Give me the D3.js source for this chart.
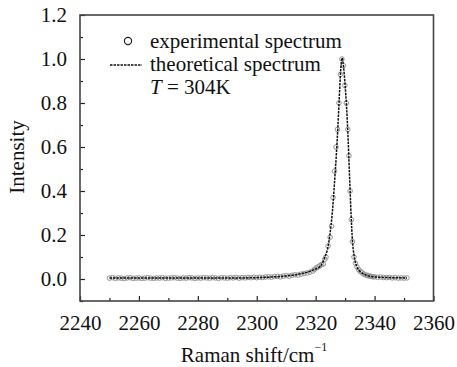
<!DOCTYPE html>
<html>
<head>
<meta charset="utf-8">
<script src="https://cdnjs.cloudflare.com/ajax/libs/d3/7.8.5/d3.min.js"></script>
<style>
  body { margin: 0; background: #fff; }
</style>
</head>
<body>
<svg id="chart" width="457" height="367"></svg>
<script>
// experimental spectrum
var expShift = [
  2250, 2251, 2252, 2253, 2254, 2255, 2256, 2257, 2258, 2259,
  2260, 2261, 2262, 2263, 2264, 2265, 2266, 2267, 2268, 2269,
  2270, 2271, 2272, 2273, 2274, 2275, 2276, 2277, 2278, 2279,
  2280, 2281, 2282, 2283, 2284, 2285, 2286, 2287, 2288, 2289,
  2290, 2291, 2292, 2293, 2294, 2295, 2296, 2297, 2298, 2299,
  2300, 2301, 2302, 2303, 2304, 2305, 2306, 2307, 2308, 2309,
  2310, 2311, 2312, 2313, 2314, 2315, 2316, 2317, 2318, 2319,
  2319.6, 2320.2, 2320.8, 2321.4, 2322.0, 2322.6, 2323.1, 2323.5, 2324.2, 2324.9,
  2325.4, 2325.9, 2326.4, 2326.9, 2327.4, 2327.9, 2328.4, 2328.9, 2329.4, 2329.9,
  2330.4, 2330.9, 2331.3, 2331.7, 2332.1, 2332.5, 2333.0, 2333.5, 2334.0, 2334.6,
  2335.2, 2335.8, 2336.4, 2337.0, 2337.6, 2338.2, 2338.8, 2339.4,
  2340, 2341, 2342, 2343, 2344, 2345, 2346, 2347, 2348, 2349, 2350, 2351
];
var expIntensity = [
  0.004, 0.006, 0.003, 0.005, 0.004, 0.002, 0.005, 0.006, 0.003, 0.004,
  0.005, 0.003, 0.004, 0.006, 0.004, 0.003, 0.005, 0.004, 0.006, 0.003,
  0.004, 0.005, 0.006, 0.004, 0.003, 0.005, 0.004, 0.006, 0.005, 0.003,
  0.005, 0.004, 0.006, 0.005, 0.004, 0.006, 0.005, 0.003, 0.006, 0.005,
  0.004, 0.006, 0.005, 0.007, 0.004, 0.006, 0.005, 0.007, 0.006, 0.008,
  0.006, 0.008, 0.007, 0.009, 0.010, 0.008, 0.011, 0.012, 0.010, 0.013,
  0.015, 0.013, 0.017, 0.019, 0.018, 0.022, 0.025, 0.027, 0.031, 0.036,
  0.044, 0.050, 0.055, 0.060, 0.066, 0.068, 0.090, 0.100, 0.150, 0.190,
  0.240, 0.370, 0.490, 0.600, 0.680, 0.800, 0.930, 1.000, 0.970, 0.880,
  0.800, 0.680, 0.560, 0.400, 0.270, 0.170, 0.100, 0.072, 0.055, 0.042,
  0.034, 0.028, 0.022, 0.018, 0.016, 0.013, 0.012, 0.010,
  0.010, 0.008, 0.009, 0.007, 0.006, 0.007, 0.005, 0.006, 0.004, 0.005, 0.004, 0.005
];

// theoretical spectrum (fitted curve)
var theoShift = [
  2250, 2260, 2270, 2280, 2290, 2295, 2300, 2305, 2310, 2313, 2315, 2317, 2319, 2320,
  2321, 2322, 2323, 2324, 2324.5, 2325, 2325.5, 2326, 2326.5, 2327, 2327.5, 2328, 2328.5,
  2329, 2329.5, 2330, 2330.5, 2331, 2331.5, 2332, 2332.5, 2333, 2333.5, 2334,
  2335, 2336, 2337, 2338, 2340, 2343, 2346, 2351
];
var theoIntensity = [
  0.004, 0.004, 0.004, 0.005, 0.005, 0.005, 0.006, 0.009, 0.014, 0.019, 0.024, 0.030, 0.040, 0.046,
  0.052, 0.065, 0.095, 0.135, 0.170, 0.220, 0.280, 0.360, 0.460, 0.560, 0.680, 0.820, 0.950,
  1.005, 0.960, 0.880, 0.780, 0.640, 0.470, 0.300, 0.170, 0.110, 0.075, 0.055,
  0.035, 0.025, 0.018, 0.014, 0.010, 0.007, 0.006, 0.005
];

var xTicks = [2240, 2260, 2280, 2300, 2320, 2340, 2360];
var xMinorTicks = [2250, 2270, 2290, 2310, 2330, 2350];
var yTicks = [0.0, 0.2, 0.4, 0.6, 0.8, 1.0, 1.2];
var yMinorTicks = [-0.1, 0.1, 0.3, 0.5, 0.7, 0.9, 1.1];
var legendLabels = ['experimental spectrum', 'theoretical spectrum'];

(function() {
  var svg = d3.select('#chart');
  var left = 80, right = 433.5, top = 15, bottom = 301;
  var serif = "'Liberation Serif', 'Times New Roman', 'DejaVu Serif', serif";
  var fs = 21;

  var x = d3.scaleLinear().domain([2240, 2360]).range([left, right]);
  var y = d3.scaleLinear().domain([-0.1, 1.2]).range([bottom, top]);

  // axes, ticks pointing inward
  svg.append('g').attr('transform', 'translate(0,' + bottom + ')')
    .call(d3.axisBottom(x).tickValues(xTicks).tickSize(-5).tickPadding(14).tickFormat(d3.format('d')));
  svg.append('g').attr('transform', 'translate(0,' + bottom + ')')
    .call(d3.axisBottom(x).tickValues(xMinorTicks).tickSize(-3).tickFormat(''));
  svg.append('g').attr('transform', 'translate(' + left + ',0)')
    .call(d3.axisLeft(y).tickValues(yTicks).tickSize(-5).tickPadding(13).tickFormat(d3.format('.1f')));
  svg.append('g').attr('transform', 'translate(' + left + ',0)')
    .call(d3.axisLeft(y).tickValues(yMinorTicks).tickSize(-3).tickFormat(''));

  svg.selectAll('.domain').remove();
  svg.selectAll('.tick line').attr('stroke', '#222').attr('stroke-width', 1.2);
  svg.selectAll('.tick text').attr('font-size', fs);

  // frame
  svg.append('rect')
    .attr('x', left).attr('y', top)
    .attr('width', right - left).attr('height', bottom - top)
    .attr('fill', 'none').attr('stroke', '#444').attr('stroke-width', 1.6);

  // experimental points
  var expData = expShift.map(function(d, i) { return {x: d, y: expIntensity[i]}; });
  svg.append('g').selectAll('circle')
    .data(expData)
    .enter().append('circle')
    .attr('cx', function(d) { return x(d.x); })
    .attr('cy', function(d) { return y(d.y); })
    .attr('r', 2.3)
    .attr('fill', 'none')
    .attr('stroke', '#8a8a8a')
    .attr('stroke-width', 0.9);

  // theoretical curve
  var theoData = theoShift.map(function(d, i) { return {x: d, y: theoIntensity[i]}; });
  var line = d3.line()
    .x(function(d) { return x(d.x); })
    .y(function(d) { return y(d.y); })
    .curve(d3.curveMonotoneX);
  svg.append('path')
    .datum(theoData)
    .attr('d', line)
    .attr('fill', 'none')
    .attr('stroke', '#111')
    .attr('stroke-width', 1.5)
    .attr('stroke-dasharray', '2.5,1');

  // legend
  svg.append('circle')
    .attr('cx', 128).attr('cy', 41).attr('r', 3.6)
    .attr('fill', 'none').attr('stroke', '#222').attr('stroke-width', 1.2);
  svg.append('line')
    .attr('x1', 110).attr('x2', 142).attr('y1', 65).attr('y2', 65)
    .attr('stroke', '#111').attr('stroke-width', 1.5).attr('stroke-dasharray', '2.5,1');
  svg.selectAll('.legend-label')
    .data(legendLabels)
    .enter().append('text')
    .attr('class', 'legend-label')
    .attr('x', 150)
    .attr('y', function(d, i) { return 48 + i * 23; })
    .attr('font-size', fs)
    .text(function(d) { return d; });
  var tLabel = svg.append('text').attr('x', 150).attr('y', 94).attr('font-size', fs);
  tLabel.append('tspan').attr('font-style', 'italic').text('T');
  tLabel.append('tspan').text(' = 304K');

  // axis titles
  var xTitle = svg.append('text')
    .attr('x', 254).attr('y', 362)
    .attr('text-anchor', 'middle')
    .attr('font-size', fs);
  xTitle.append('tspan').text('Raman shift/cm');
  xTitle.append('tspan').attr('dy', -11).attr('font-size', 12).text('\u22121');

  svg.append('text')
    .attr('transform', 'translate(24,157) rotate(-90)')
    .attr('text-anchor', 'middle')
    .attr('font-size', fs)
    .text('Intensity');

  svg.selectAll('g').attr('font-family', serif);
  svg.selectAll('text').attr('font-family', serif).attr('fill', '#111');
})();
</script>
</body>
</html>
